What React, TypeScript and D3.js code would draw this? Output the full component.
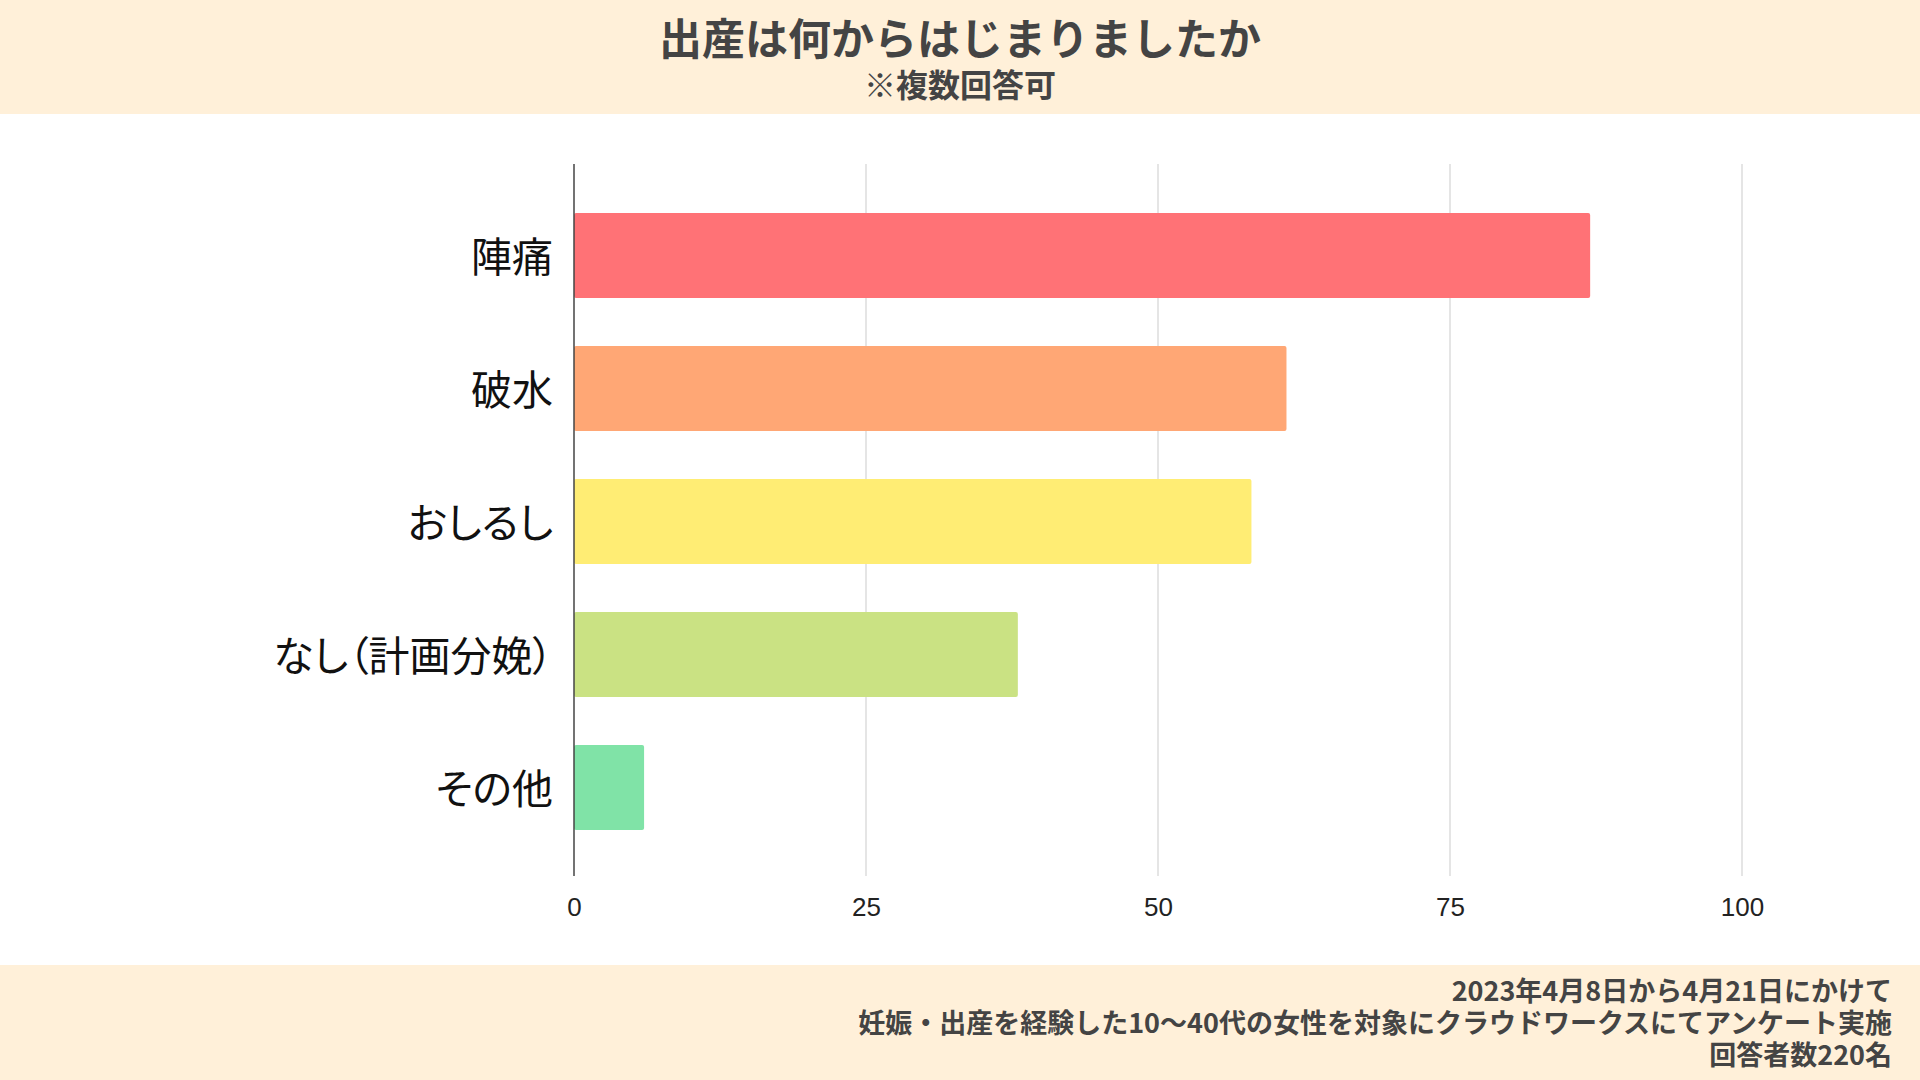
import * as d3 from 'd3';
import { useEffect, useRef } from 'react';

const categories = ['陣痛', '破水', 'おしるし', 'なし（計画分娩）', 'その他'];
const counts = [87, 61, 58, 38, 6];
const barColors = ['#FF7276', '#FFA775', '#FFED74', '#CAE283', '#80E3A7'];
const xTicks = [0, 25, 50, 75, 100];

const titleText = '出産は何からはじまりましたか';
const subtitleText = '※複数回答可';
const footerLines = [
  '2023年4月8日から4月21日にかけて',
  '妊娠・出産を経験した10〜40代の女性を対象にクラウドワークスにてアンケート実施',
  '回答者数220名',
];

const App = () => {
  const svgRef = useRef<SVGSVGElement | null>(null);

  useEffect(() => {
    const width = 1920;
    const height = 1080;
    const headerHeight = 114;
    const footerTop = 965;
    const bandColor = '#FFF0D9';
    const jpFont = '"Noto Sans CJK JP", "Noto Sans", sans-serif';

    const plotLeft = 574;
    const plotRight = 1742;
    const plotTop = 164;
    const plotBottom = 876;

    const svg = d3.select(svgRef.current);
    svg.selectAll('*').remove();

    svg.append('rect').attr('width', width).attr('height', height).attr('fill', '#fff');

    // header + footer bands
    svg.append('rect').attr('width', width).attr('height', headerHeight).attr('fill', bandColor);
    svg.append('rect')
      .attr('y', footerTop)
      .attr('width', width)
      .attr('height', height - footerTop)
      .attr('fill', bandColor);

    svg.append('text')
      .attr('x', width / 2)
      .attr('y', 36)
      .attr('text-anchor', 'middle')
      .attr('dominant-baseline', 'central')
      .attr('font-family', jpFont)
      .attr('font-weight', 700)
      .attr('font-size', 43)
      .attr('fill', '#444')
      .text(titleText);

    svg.append('text')
      .attr('x', width / 2)
      .attr('y', 83)
      .attr('text-anchor', 'middle')
      .attr('dominant-baseline', 'central')
      .attr('font-family', jpFont)
      .attr('font-weight', 700)
      .attr('font-size', 32)
      .attr('fill', '#444')
      .text(subtitleText);

    const xScale = d3.scaleLinear().domain([0, 100]).range([plotLeft, plotRight]);
    const yScale = d3.scaleBand<string>()
      .domain(categories)
      .range([189, 854])
      .paddingInner(0.36)
      .paddingOuter(0.18);

    // vertical grid lines
    svg.append('g')
      .selectAll('line')
      .data(xTicks.filter((d) => d !== 0))
      .join('line')
      .attr('x1', (d) => xScale(d))
      .attr('x2', (d) => xScale(d))
      .attr('y1', plotTop)
      .attr('y2', plotBottom)
      .attr('stroke', '#DDDDDD')
      .attr('stroke-width', 1.5);

    // bars
    svg.append('g')
      .selectAll('rect')
      .data(categories)
      .join('rect')
      .attr('x', xScale(0))
      .attr('y', (d) => yScale(d)!)
      .attr('width', (_, i) => xScale(counts[i]) - xScale(0))
      .attr('height', yScale.bandwidth())
      .attr('rx', 2)
      .attr('fill', (_, i) => barColors[i]);

    // baseline axis
    svg.append('line')
      .attr('x1', xScale(0))
      .attr('x2', xScale(0))
      .attr('y1', plotTop)
      .attr('y2', plotBottom)
      .attr('stroke', '#444')
      .attr('stroke-width', 1.5);

    // x axis labels
    svg.append('g')
      .attr('transform', `translate(0,${plotBottom})`)
      .call(d3.axisBottom(xScale).tickValues(xTicks).tickFormat(d3.format('d')).tickSize(0))
      .call((g) => g.select('.domain').remove())
      .call((g) => g.selectAll('.tick text')
        .attr('y', 31)
        .attr('dy', '0.35em')
        .attr('font-size', 26)
        .attr('font-family', 'Arial, "Liberation Sans", sans-serif')
        .attr('fill', '#222'));

    // category labels
    svg.append('g')
      .selectAll('text')
      .data(categories)
      .join('text')
      .attr('x', 553)
      .attr('y', (d) => yScale(d)! + yScale.bandwidth() / 2 - 2)
      .attr('text-anchor', 'end')
      .attr('dominant-baseline', 'central')
      .attr('font-family', jpFont)
      .attr('font-size', 41)
      .attr('fill', '#111')
      .style('font-feature-settings', '"palt"')
      .text((d) => d);

    // footer
    svg.append('g')
      .selectAll('text')
      .data(footerLines)
      .join('text')
      .attr('x', 1892)
      .attr('y', (_, i) => 989 + i * 32)
      .attr('text-anchor', 'end')
      .attr('dominant-baseline', 'central')
      .attr('font-family', jpFont)
      .attr('font-weight', 700)
      .attr('font-size', 27)
      .attr('fill', '#444')
      .text((d) => d);
  }, []);

  return (
    <svg
      ref={svgRef}
      width={1920}
      height={1080}
      style={{ position: 'absolute', top: 0, left: 0, display: 'block' }}
    />
  );
};

export default App;
